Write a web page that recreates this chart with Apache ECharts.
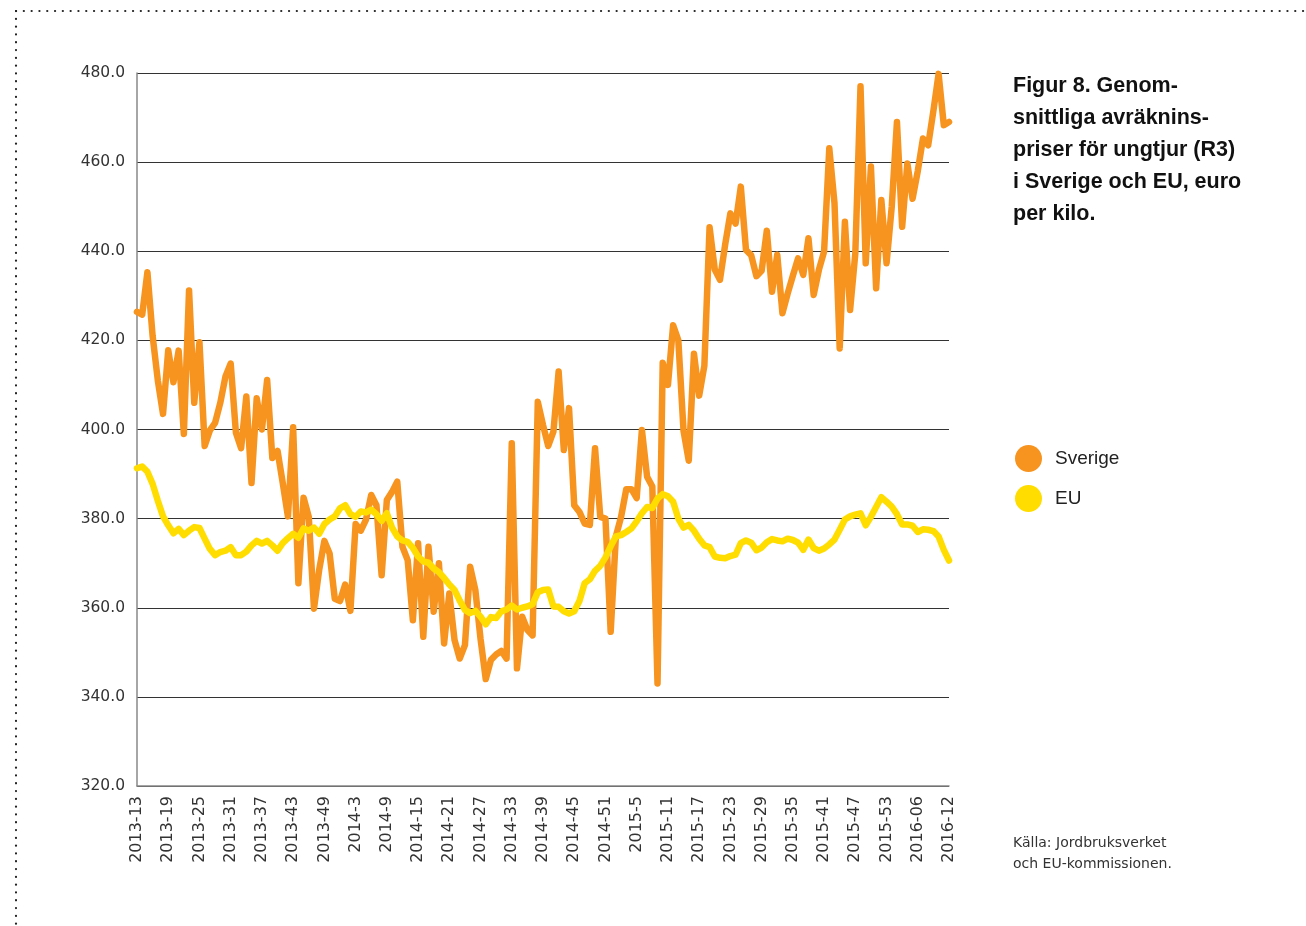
<!DOCTYPE html>
<html>
<head>
<meta charset="utf-8">
<title>Figur 8</title>
<script src="https://cdn.jsdelivr.net/npm/echarts@6/dist/echarts.min.js"></script>
<style>
  html, body { margin: 0; padding: 0; background: #fff; }
  #chart { width: 1306px; height: 926px; }
</style>
</head>
<body>
<div id="chart"></div>
<script>
// veckor per år: [år, första vecka, sista vecka]
var yearWeeks = [[2013, 13, 52], [2014, 1, 52], [2015, 1, 53], [2016, 1, 12]];

var sverige = [
  426.4, 425.8, 435.3, 421, 411, 403.5, 417.8, 410.6, 417.7, 399,
  431.2, 406, 419.6, 396.3, 399.8, 401.5, 406, 411.9, 414.8, 399.3,
  395.8, 407.4, 388, 407, 400, 411.1, 393.6, 395.2, 388, 380.5,
  400.5, 365.5, 384.7, 380.4, 359.8, 368.5, 375, 372.2, 362, 361.5,
  365.2, 359.3, 378.8, 377.3, 379.8, 385.3, 383, 367.3, 384.2, 386,
  388.3, 373.7, 370.7, 357.2, 374.5, 353.5, 373.7, 359.1, 370, 352,
  363.2, 352.8, 348.6, 351.6, 369.2, 364, 353, 344, 348.3, 349.5,
  350.3, 348.6, 396.9, 346.4, 358, 355, 353.8, 406.2, 401, 396.3,
  399.5, 413, 395.4, 404.8, 383, 381.5, 378.9, 378.6, 395.8, 380.4,
  380, 354.6, 376, 380.4, 386.6, 386.6, 384.6, 399.9, 389.4, 387.2,
  343, 415, 410, 423.4, 420, 399.7, 393, 417, 407.6, 414.3,
  445.4, 435.9, 433.6, 441.5, 448.5, 446.2, 454.5, 440.3, 439.1, 434.4,
  435.6, 444.6, 430.9, 439.2, 426.1, 430.5, 434.5, 438.4, 434.7, 442.9,
  430.2, 435.8, 439.9, 463.1, 450.8, 418.2, 446.6, 426.8, 439.5, 477,
  437.3, 459, 431.7, 451.5, 437.3, 450, 469, 445.5, 459.7, 451.8,
  458, 465.3, 463.8, 471.5, 479.8, 468.3, 469
];

var eu = [
  391.3, 391.7, 390.5, 387.8, 384, 380.5, 378.5, 376.7, 377.7, 376.3,
  377.3, 378.1, 377.9, 375.5, 373.2, 371.8, 372.5, 372.8, 373.6, 371.8,
  371.8, 372.6, 374, 375, 374.4, 375, 374, 372.8, 374.5, 375.6,
  376.6, 375.7, 377.8, 377.3, 378, 376.6, 378.8, 379.8, 380.5, 382.3,
  383, 381, 380.4, 381.6, 381.4, 382, 381, 379.5, 381.2, 378,
  376, 375.1, 374.8, 373.4, 371.5, 370.4, 370.1, 368.8, 368, 366.7,
  365.2, 364, 361.6, 359.5, 358.8, 359.3, 358, 356.3, 357.9, 357.7,
  359.2, 359.6, 360.5, 359.6, 360, 360.3, 360.8, 363.5, 364, 364.1,
  360.3, 360.2, 359.2, 358.7, 359.2, 361.5, 365.5, 366.4, 368.3, 369.4,
  371.3, 373.8, 376, 376.3, 377, 377.8, 379.4, 381.2, 382.6, 382.4,
  384.5, 385.5, 385, 383.8, 380, 378, 378.6, 377.3, 375.5, 374,
  373.6, 371.5, 371.2, 371.1, 371.6, 371.9, 374.5, 375.1, 374.6, 372.9,
  373.5, 374.7, 375.4, 375.1, 374.9, 375.5, 375.2, 374.6, 373, 375.3,
  373.4, 372.8, 373.3, 374.2, 375.3, 377.5, 379.8, 380.5, 380.9, 381.2,
  378.5, 380.4, 382.6, 384.8, 383.8, 382.7, 381, 378.7, 378.7, 378.4,
  377, 377.6, 377.5, 377.2, 376, 373, 370.6
];

var titleLines = ['Figur 8. Genom-', 'snittliga avräknins-', 'priser för ungtjur (R3)', 'i Sverige och EU, euro', 'per kilo.'];
var sourceLines = ['Källa: Jordbruksverket', 'och EU-kommissionen.'];

// kategorier: 2013-13 ... 2016-12 (2016 med nollutfyllnad)
var weeks = [];
yearWeeks.forEach(function (y) {
  for (var w = y[1]; w <= y[2]; w++) {
    var lab = (y[0] === 2016 && w < 10) ? '0' + w : '' + w;
    weeks.push(y[0] + '-' + lab);
  }
});

var FONT = '"Liberation Sans", Arial, sans-serif';
var AXISFONT = '"DejaVu Sans", sans-serif';

var chart = echarts.init(document.getElementById('chart'));

var option = {
  animation: false,
  backgroundColor: '#fff',
  grid: { left: 137, right: 357, top: 73, bottom: 140, containLabel: false },
  title: [
    {
      text: titleLines.join('\n'),
      left: 1013, top: 70, padding: 0,
      textStyle: { fontFamily: FONT, fontSize: 21.5, fontWeight: 'bold', color: '#111', lineHeight: 32 }
    },
    {
      text: sourceLines.join('\n'),
      left: 1013, top: 833, padding: 0,
      textStyle: { fontFamily: AXISFONT, fontSize: 14, fontWeight: 'normal', color: '#333', lineHeight: 21 }
    }
  ],
  legend: {
    orient: 'vertical',
    left: 1015, top: 445, padding: 0,
    icon: 'circle',
    itemWidth: 27, itemHeight: 27, itemGap: 13,
    textStyle: { fontFamily: FONT, fontSize: 19, color: '#222', padding: [0, 0, 0, 8] },
    data: ['Sverige', 'EU']
  },
  xAxis: {
    type: 'category',
    data: weeks,
    boundaryGap: false,
    axisLine: { show: true, lineStyle: { color: '#888', width: 1.5 } },
    axisTick: { show: false },
    axisLabel: {
      interval: 5, rotate: 90, margin: 10,
      fontFamily: AXISFONT, fontSize: 16, color: '#333'
    },
    splitLine: { show: false }
  },
  yAxis: {
    type: 'value',
    min: 320, max: 480, interval: 20,
    axisLine: { show: true, lineStyle: { color: '#888', width: 1.5 } },
    axisTick: { show: false },
    axisLabel: {
      margin: 12, fontFamily: AXISFONT, fontSize: 15.5, color: '#333',
      padding: [3, 0, 0, 0],
      formatter: function (v) { return v.toFixed(1); }
    },
    splitLine: { show: true, lineStyle: { color: '#333', width: 1 } }
  },
  series: [
    {
      name: 'Sverige', type: 'line', data: sverige,
      symbol: 'none', color: '#F7941F',
      lineStyle: { width: 6.5, color: '#F7941F', cap: 'round', join: 'round' }
    },
    {
      name: 'EU', type: 'line', data: eu,
      symbol: 'none', color: '#FFDD00',
      lineStyle: { width: 6.5, color: '#FFDD00', cap: 'round', join: 'round' }
    }
  ],
  // prickad ram upptill och till vänster
  graphic: [
    {
      type: 'line', silent: true,
      shape: { x1: 16, y1: 11, x2: 1306, y2: 11 },
      style: { stroke: '#222', lineWidth: 2.2, lineDash: [0.1, 7.7], lineCap: 'round' }
    },
    {
      type: 'line', silent: true,
      shape: { x1: 16, y1: 11, x2: 16, y2: 926 },
      style: { stroke: '#222', lineWidth: 2.2, lineDash: [0.1, 7.7], lineCap: 'round' }
    }
  ]
};

chart.setOption(option);
</script>
</body>
</html>
